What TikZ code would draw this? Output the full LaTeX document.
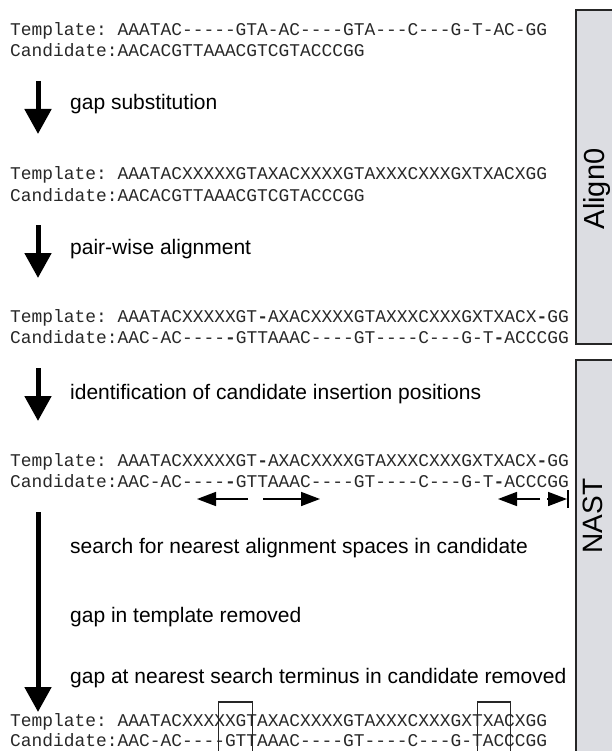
\documentclass[tikz,border=0pt]{standalone}
\usepackage{fontspec}
\setmainfont{Liberation Sans}
\setmonofont{Liberation Mono}
\usetikzlibrary{arrows.meta}
\definecolor{panelgray}{RGB}{220,221,226}
\definecolor{seqcol}{RGB}{40,40,40}
\tikzset{
  seq/.style={anchor=base west, inner sep=0pt, text=seqcol, font=\fontsize{17.9}{20}\selectfont\ttfamily},
  lbl/.style={anchor=base west, inner sep=0pt, font=\fontsize{21}{24}\selectfont},
  bigarrow/.style={line width=5pt, -{Triangle[length=25pt,width=26pt]}},
  smallarrow/.style={line width=1.6pt, -{Triangle[length=19pt,width=14pt]}},
  panel/.style={draw=black!85, line width=1.5pt, fill=panelgray},
  selbox/.style={draw=black!85, line width=1.2pt},
  sidelbl/.style={anchor=base, inner sep=0pt, rotate=90}
}
\newcommand{\bh}{{\bfseries -}}
\begin{document}
\begin{tikzpicture}[x=1pt,y=-1pt]
\useasboundingbox (0,0) rectangle (612,751);
\clip (0,0) rectangle (612,751);
\fill[white] (0,0) rectangle (612,751);

% side panels
\draw[panel] (576,10) rectangle (640,344);
\draw[panel] (576,360) rectangle (640,770);
\node[sidelbl, font=\fontsize{29}{29}\selectfont] (align0) at (604,189) {Align0};
\node[sidelbl, font=\fontsize{28}{28}\selectfont] (nast) at (602,516) {NAST};

% step 1
\node[seq] (t1) at (10,36) {Template: AAATAC-----GTA-AC----GTA---C---G-T-AC-GG};
\node[seq] (c1) at (10,57) {Candidate:AACACGTTAAACGTCGTACCCGG};
\coordinate (a1s) at (38,81);
\coordinate (a1e) at (38,134);
\draw[bigarrow] (a1s) -- (a1e);
\node[lbl] (l1) at (70,110) {gap substitution};

% step 2
\node[seq] (t2) at (10,180) {Template: AAATACXXXXXGTAXACXXXXGTAXXXCXXXGXTXACXGG};
\node[seq] (c2) at (10,201) {Candidate:AACACGTTAAACGTCGTACCCGG};
\coordinate (a2s) at (38,225);
\coordinate (a2e) at (38,278);
\draw[bigarrow] (a2s) -- (a2e);
\node[lbl] (l2) at (70,254) {pair-wise alignment};

% step 3
\node[seq] (t3) at (10,322) {Template: AAATACXXXXXGT\bh AXACXXXXGTAXXXCXXXGXTXACX\bh GG};
\node[seq] (c3) at (10,343) {Candidate:AAC-AC----\bh GTTAAAC----GT----C---G-T\bh ACCCGG};
\coordinate (a3s) at (38,368);
\coordinate (a3e) at (38,421);
\draw[bigarrow] (a3s) -- (a3e);
\node[lbl] (l3) at (70,399) {identification of candidate insertion positions};

% step 4
\node[seq] (t4) at (10,466) {Template: AAATACXXXXXGT\bh AXACXXXXGTAXXXCXXXGXTXACX\bh GG};
\node[seq] (c4) at (10,487) {Candidate:AAC-AC----\bh GTTAAAC----GT----C---G-T\bh ACCCGG};

% search arrows
\coordinate (s1a) at (248,499);
\coordinate (s1b) at (197,499);
\coordinate (s2a) at (263,499);
\coordinate (s2b) at (320,499);
\coordinate (s3a) at (540,499);
\coordinate (s3b) at (498,499);
\coordinate (s4a) at (547,499);
\coordinate (s4b) at (567,499);
\draw[smallarrow] (s1a) -- (s1b);
\draw[smallarrow] (s2a) -- (s2b);
\draw[smallarrow] (s3a) -- (s3b);
\draw[smallarrow] (s4a) -- (s4b);
\coordinate (bartop) at (568,490);
\coordinate (barbot) at (568,508);
\draw[line width=1.6pt] (bartop) -- (barbot);

% long arrow
\coordinate (a4s) at (38,512);
\coordinate (a4e) at (38,712);
\draw[bigarrow] (a4s) -- (a4e);
\node[lbl] (l4) at (70,553) {search for nearest alignment spaces in candidate};
\node[lbl] (l5) at (70,622) {gap in template removed};
\node[lbl] (l6) at (70,683) {gap at nearest search terminus in candidate removed};

% final
\node[seq] (t5) at (10,726) {Template: AAATACXXXXXGTAXACXXXXGTAXXXCXXXGXTXACXGG};
\node[seq] (c5) at (10,746) {Candidate:AAC-AC----GTTAAAC----GT----C---G-TACCCGG};
\draw[selbox] (218.3,702) rectangle (252.3,760);
\draw[selbox] (477.7,702) rectangle (510.7,760);
\end{tikzpicture}
\end{document}
